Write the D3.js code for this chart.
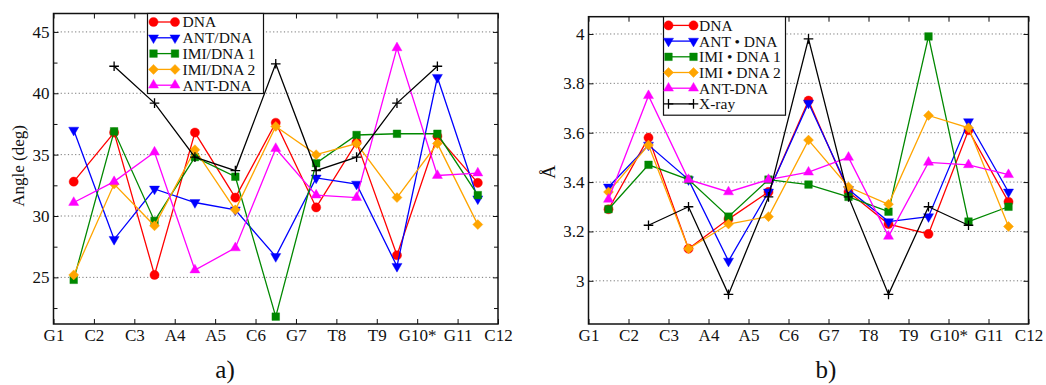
<!DOCTYPE html>
<html>
<head>
<meta charset="utf-8">
<script src="https://cdn.jsdelivr.net/npm/d3@7"></script>
<style>
  body { margin: 0; background: #fff; }
  svg, svg text { font-family: 'Liberation Serif', Times, serif !important; fill: #111; }
  .grid line { stroke: #777; stroke-dasharray: 1.2,2.4; }
  .axis path.domain { display: none; }
  .axis line { stroke: #111; }
</style>
</head>
<body>
<div id="chart"></div>
<script>
'use strict';

const categories = ['G1', 'C2', 'C3', 'A4', 'A5', 'C6', 'G7', 'T8', 'T9', 'G10*', 'G11', 'C12'];

// a) angle between neighbouring steps (deg)
const angleDNA  = [32.8, 36.8, 25.2, 36.8, 31.5, 37.6, 30.7, 36.0, 26.8, 36.5, 32.7];
const angleANT  = [37.0, 28.1, 32.2, 31.1, 30.5, 26.7, 33.1, 32.6, 25.9, 41.3, 31.4];
const angleIMI1 = [24.8, 36.9, 29.6, 34.8, 33.2, 21.8, 34.3, 36.6, 36.7, 36.7, 31.7];
const angleIMI2 = [25.2, 32.6, 29.2, 35.4, 30.5, 37.3, 35.0, 35.9, 31.5, 35.9, 29.3];
const angleANTc = [31.1, 32.8, 35.2, 25.6, 27.4, 35.5, 31.7, 31.5, 43.7, 33.3, 33.5];
const angleXray = [null, 42.2, 39.2, 34.8, 33.7, 42.4, 33.7, 34.8, 39.2, 42.2, null];

// b) rise between neighbouring steps (Å)
const riseDNA  = [3.29, 3.58, 3.13, 3.25, 3.36, 3.73, 3.36, 3.23, 3.19, 3.61, 3.32];
const riseANT  = [3.38, 3.55, 3.41, 3.08, 3.36, 3.72, 3.37, 3.24, 3.26, 3.645, 3.36];
const riseIMI1 = [3.29, 3.47, 3.41, 3.26, 3.41, 3.39, 3.34, 3.28, 3.99, 3.24, 3.30];
const riseIMI2 = [3.36, 3.55, 3.13, 3.23, 3.26, 3.57, 3.38, 3.31, 3.67, 3.62, 3.22];
const riseANTc = [3.33, 3.75, 3.41, 3.36, 3.41, 3.44, 3.50, 3.18, 3.48, 3.47, 3.43];
const riseXray = [null, 3.225, 3.30, 2.945, 3.34, 3.98, 3.34, 2.945, 3.30, 3.225, null];

const namesA = ['DNA', 'ANT/DNA', 'IMI/DNA 1', 'IMI/DNA 2', 'ANT-DNA'];
const namesB = ['DNA', 'ANT \u2022 DNA', 'IMI \u2022 DNA 1', 'IMI \u2022 DNA 2', 'ANT-DNA', 'X-ray'];

const angleTicks = [25, 30, 35, 40, 45];
const angleMinor = [22.5, 27.5, 32.5, 37.5, 42.5];
const riseTicks = [3, 3.2, 3.4, 3.6, 3.8, 4];

// one style per series, same order in both panels
const colors = ['#ff0000', '#0000ff', '#008800', '#ffa500', '#ff00ff', '#000000'];
const shapes = ['circle', 'triDown', 'square', 'diamond', 'triUp', 'plus'];

const W = 1046, H = 385;
const FONT = "'Liberation Serif', Times, serif";
const svg = d3.select('#chart').append('svg')
  .attr('width', W).attr('height', H)
  .attr('font-family', FONT);

const markerPath = {
  circle: d3.symbol(d3.symbolCircle, Math.PI * 4.6 * 4.6)(),
  triUp: d3.symbol(d3.symbolTriangle, 44)(),
  triDown: d3.symbol(d3.symbolTriangle, 44)(),
  square: d3.symbol(d3.symbolSquare, 58)(),
  diamond: d3.symbol(d3.symbolSquare, 50)(),
  plus: 'M-4.8,0H4.8M0,-4.8V4.8'
};
const markerRot = { triDown: 180, diamond: 45 };

function styleMarker(sel, shape, color) {
  sel.attr('d', markerPath[shape])
    .attr('fill', shape === 'plus' ? 'none' : color)
    .attr('stroke', color)
    .attr('stroke-width', shape === 'plus' ? 1.3 : 0.4);
}

function drawPanel(opt) {
  let g = svg.append('g');
  let x = d3.scaleLinear().domain([0, categories.length - 1]).range([opt.left, opt.right]);
  let y = d3.scaleLinear().domain(opt.yDomain).range([opt.bottom, opt.top]);

  // dotted horizontal grid at the labelled ticks
  g.append('g').attr('class', 'grid')
    .selectAll('line').data(opt.yTicks).join('line')
    .attr('x1', opt.left).attr('x2', opt.right)
    .attr('y1', d => y(d)).attr('y2', d => y(d));

  // inward ticks on all four sides, labels only bottom/left
  let idx = d3.range(categories.length);
  g.append('g').attr('class', 'axis')
    .attr('transform', `translate(0,${opt.bottom})`)
    .call(d3.axisBottom(x).tickValues(idx).tickFormat(i => categories[i])
      .tickSizeInner(-5).tickSizeOuter(0).tickPadding(5))
    .call(a => a.attr('font-family', FONT).attr('font-size', 17));
  g.append('g').attr('class', 'axis')
    .attr('transform', `translate(0,${opt.top})`)
    .call(d3.axisTop(x).tickValues(idx).tickFormat('').tickSizeInner(-5).tickSizeOuter(0));
  g.append('g').attr('class', 'axis')
    .attr('transform', `translate(${opt.left},0)`)
    .call(d3.axisLeft(y).tickValues(opt.yTicks).tickFormat(opt.yFormat)
      .tickSizeInner(-5).tickSizeOuter(0).tickPadding(4))
    .call(a => a.attr('font-family', FONT).attr('font-size', 17));
  g.append('g').attr('class', 'axis')
    .attr('transform', `translate(${opt.right},0)`)
    .call(d3.axisRight(y).tickValues(opt.yTicks).tickFormat('').tickSizeInner(-5).tickSizeOuter(0));
  if (opt.yMinor) {
    g.append('g').attr('class', 'axis')
      .attr('transform', `translate(${opt.left},0)`)
      .call(d3.axisLeft(y).tickValues(opt.yMinor).tickFormat('').tickSizeInner(-4).tickSizeOuter(0));
    g.append('g').attr('class', 'axis')
      .attr('transform', `translate(${opt.right},0)`)
      .call(d3.axisRight(y).tickValues(opt.yMinor).tickFormat('').tickSizeInner(-4).tickSizeOuter(0));
  }

  // series: values sit halfway between two category ticks
  let line = d3.line()
    .defined(d => d != null)
    .x((d, i) => x(i + 0.5))
    .y(d => y(d));

  opt.series.forEach(function (vals, s) {
    let color = colors[s], shape = shapes[s];
    g.append('path')
      .datum(vals)
      .attr('d', line)
      .attr('fill', 'none')
      .attr('stroke', color)
      .attr('stroke-width', 1.3);
    g.append('g').selectAll('path')
      .data(vals.map((v, i) => ({ v: v, i: i })).filter(d => d.v != null))
      .join('path')
      .call(styleMarker, shape, color)
      .attr('transform', d => `translate(${x(d.i + 0.5)},${y(d.v)})rotate(${markerRot[shape] || 0})`);
  });

  // frame
  g.append('rect')
    .attr('x', opt.left).attr('y', opt.top)
    .attr('width', opt.right - opt.left).attr('height', opt.bottom - opt.top)
    .attr('fill', 'none').attr('stroke', '#111').attr('stroke-width', 1.5);

  // legend
  let lg = opt.legend;
  g.append('rect')
    .attr('x', lg.x).attr('y', lg.y).attr('width', lg.w).attr('height', lg.h)
    .attr('fill', '#fff').attr('stroke', '#111').attr('stroke-width', 1.2);
  opt.names.forEach(function (name, s) {
    let ly = lg.y + lg.first + s * lg.step;
    let color = colors[s], shape = shapes[s];
    g.append('line')
      .attr('x1', lg.x1).attr('x2', lg.x2).attr('y1', ly).attr('y2', ly)
      .attr('stroke', color).attr('stroke-width', 1.3);
    [lg.x1, lg.x2].forEach(function (mx) {
      g.append('path')
        .call(styleMarker, shape, color)
        .attr('transform', `translate(${mx},${ly})rotate(${markerRot[shape] || 0})`);
    });
    g.append('text')
      .attr('x', lg.tx).attr('y', ly).attr('dy', '0.35em')
      .attr('font-size', 15.5)
      .text(name);
  });

  // axis title
  g.append('text')
    .attr('transform', `translate(${opt.titleX},${opt.titleY})rotate(-90)`)
    .attr('text-anchor', 'middle')
    .attr('dy', '0.35em')
    .attr('font-size', opt.titleSize)
    .text(opt.title);

  // panel caption
  g.append('text')
    .attr('x', opt.capX).attr('y', 378)
    .attr('text-anchor', 'middle')
    .attr('font-size', 25)
    .text(opt.caption);
}

drawPanel({
  left: 53.5, right: 498, top: 13.5, bottom: 324,
  yDomain: [21.2, 46.5],
  yTicks: angleTicks, yMinor: angleMinor,
  yFormat: d => d,
  series: [angleDNA, angleANT, angleIMI1, angleIMI2, angleANTc, angleXray],
  names: namesA,
  legend: { x: 147.5, y: 13.5, w: 116, h: 80, first: 8.5, step: 15.8, x1: 153.5, x2: 175, tx: 182.5 },
  title: 'Angle (deg)', titleX: 18, titleY: 166, titleSize: 17,
  caption: 'a)', capX: 225
});

drawPanel({
  left: 588.5, right: 1028.5, top: 16.7, bottom: 324,
  yDomain: [2.825, 4.07],
  yTicks: riseTicks, yMinor: null,
  yFormat: d => String(+d.toFixed(1)),
  series: [riseDNA, riseANT, riseIMI1, riseIMI2, riseANTc, riseXray],
  names: namesB,
  legend: { x: 663.5, y: 16.7, w: 122, h: 98.5, first: 8.7, step: 15.7, x1: 668.5, x2: 693.5, tx: 699 },
  title: '\u00c5', titleX: 548, titleY: 172, titleSize: 19,
  caption: 'b)', capX: 826
});
</script>
</body>
</html>
